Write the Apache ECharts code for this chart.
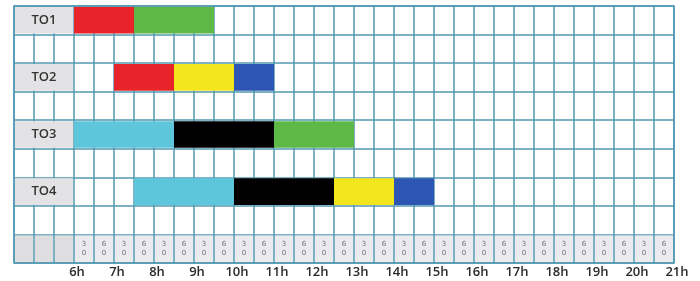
<!DOCTYPE html>
<html><head><meta charset="utf-8">
<script src="https://cdn.jsdelivr.net/npm/echarts@6/dist/echarts.min.js"></script>
<style>html,body{margin:0;padding:0;background:#fff}#c{width:700px;height:281px}</style>
</head><body><div id="c"></div>
<script>
// ---- data ----
const rowLabels = ['TO1', 'TO2', 'TO3', 'TO4'];
const hourLabels = ['6h','7h','8h','9h','10h','11h','12h','13h','14h','15h','16h','17h','18h','19h','20h','21h'];
const halfHourLabels = ['30', '60'];
const taskRow   = [0, 0,   1, 1,   1,  2, 2,   2,  3,   3,  3,    3];
const taskStart = [6, 7.5, 7, 8.5, 10, 6, 8.5, 11, 7.5, 10, 12.5, 14];
const taskEnd   = [7.5, 9.5, 8.5, 10, 11, 8.5, 11, 13, 10, 12.5, 14, 15];
const taskKind  = ['R','G','R','Y','B','C','K','G','C','K','Y','B'];

// ---- styles ----
const kindColors = {R:'#e8242a', G:'#5db846', Y:'#f4e61c', B:'#2d55b2', C:'#5ec6da', K:'#000000'};
const lineColor = '#5298b0';
const firstHour = parseInt(hourLabels[0]);
const lastHour = parseInt(hourLabels[hourLabels.length - 1]);
const labelColStart = firstHour - 1.5;
const nRows = rowLabels.length * 2 + 1;

// cells: [x0, x1, y0, y1, type]
const cells = [];
rowLabels.forEach((_, i) => cells.push([labelColStart, firstHour, 2*i, 2*i+1, 0]));
for (let k = 0; k < 3; k++) cells.push([labelColStart + k*0.5, labelColStart + (k+1)*0.5, nRows-1, nRows, 1]);
const halfCols = [];
for (let t = firstHour, i = 0; t < lastHour; t += 0.5, i++) {
  cells.push([t, t + 0.5, nRows-1, nRows, 2]);
  halfCols.push([t + 0.25, nRows - 0.5, halfHourLabels[i % 2]]);
}
const cellFill = ['#e3e3e5', '#dedee0', '#ebebef'];

const chart = echarts.init(document.getElementById('c'), null, {renderer: 'canvas'});
chart.setOption({
  animation: false,
  backgroundColor: '#fff',
  grid: {left: 14, right: 26, top: 6, bottom: 18, show: true, borderColor: lineColor, borderWidth: 1.5},
  xAxis: {
    type: 'value', min: labelColStart, max: lastHour, interval: 0.5,
    axisLine: {show: false}, axisTick: {show: false},
    splitLine: {show: true, lineStyle: {color: lineColor, width: 1.5}},
    axisLabel: {
      show: true, margin: 3, fontSize: 13, fontFamily: 'Open Sans', fontWeight: 600, color: '#2a2a2a',
      padding: [0, 0, 0, 6], showMaxLabel: true, showMinLabel: true,
      formatter: v => { const i = hourLabels.findIndex(h => parseInt(h) === v); return i >= 0 ? hourLabels[i] : ''; }
    }
  },
  yAxis: {
    type: 'value', min: 0, max: nRows, interval: 1, inverse: true,
    axisLine: {show: false}, axisTick: {show: false}, axisLabel: {show: false},
    splitLine: {show: true, lineStyle: {color: lineColor, width: 1.5}}
  },
  series: [
    {
      type: 'custom', silent: true,
      data: cells,
      renderItem: (params, api) => {
        const p0 = api.coord([api.value(0), api.value(2)]);
        const p1 = api.coord([api.value(1), api.value(3)]);
        return {type: 'rect', shape: {x: p0[0] + 1, y: p0[1] + 1, width: p1[0] - p0[0] - 2, height: p1[1] - p0[1] - 2},
          style: {fill: cellFill[api.value(4)]}};
      }
    },
    {
      type: 'custom', silent: true,
      data: rowLabels.map((l, i) => [labelColStart + 0.75, 2*i + 0.5, l]),
      renderItem: (params, api) => {
        const p = api.coord([api.value(0), api.value(1)]);
        return {type: 'text', x: p[0], y: p[1], style: {text: rowLabels[params.dataIndex], align: 'center', verticalAlign: 'middle',
          fontSize: 13, fontFamily: 'Open Sans', fontWeight: 600, fill: '#333'}};
      }
    },
    {
      type: 'custom', silent: true,
      data: halfCols,
      renderItem: (params, api) => {
        const p = api.coord([api.value(0), api.value(1)]);
        const s = halfCols[params.dataIndex][2];
        return {type: 'text', x: p[0], y: p[1], style: {text: s[0] + '\n' + s[1], align: 'center', verticalAlign: 'middle',
          fontSize: 7, lineHeight: 9, fontFamily: 'DejaVu Sans', fill: '#6a6f80'}};
      }
    },
    {
      type: 'custom', silent: true,
      data: taskRow.map((r, i) => [r, taskStart[i], taskEnd[i]]),
      renderItem: (params, api) => {
        const r = api.value(0);
        const p0 = api.coord([api.value(1), 2*r]);
        const p1 = api.coord([api.value(2), 2*r + 1]);
        return {type: 'rect', shape: {x: p0[0], y: p0[1] + 1, width: p1[0] - p0[0], height: p1[1] - p0[1] - 2},
          style: {fill: kindColors[taskKind[params.dataIndex]]}};
      }
    }
  ]
});
</script>
</body></html>
